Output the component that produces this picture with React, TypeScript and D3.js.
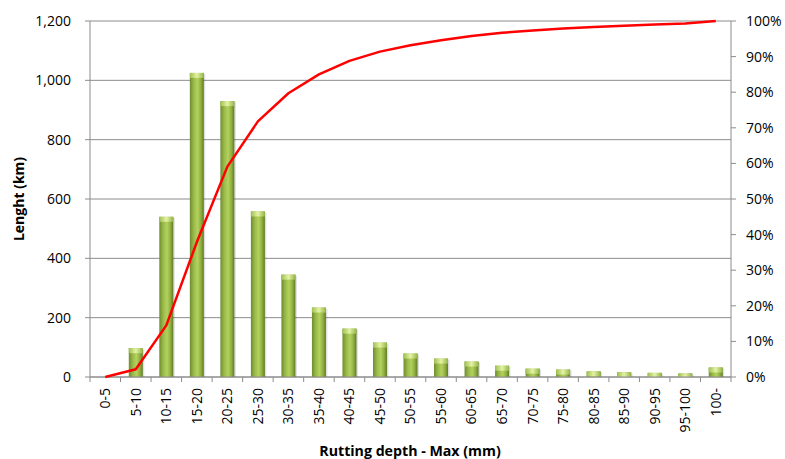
import React from "react";
import * as d3 from "d3";

const categories = ["0-5","5-10","10-15","15-20","20-25","25-30","30-35","35-40","40-45","45-50","50-55","55-60","60-65","65-70","70-75","75-80","80-85","85-90","90-95","95-100","100-"];
const lengths = [0, 97, 540, 1025, 930, 558, 345, 234, 163, 116, 79, 62, 52, 38, 28, 25, 19, 16, 14, 12, 32];
const cumulativePct = [0, 2.2, 14.5, 37.9, 59.1, 71.8, 79.7, 85.0, 88.8, 91.4, 93.2, 94.6, 95.8, 96.7, 97.3, 97.9, 98.3, 98.7, 99.0, 99.3, 100];
const leftTicks = [0, 200, 400, 600, 800, 1000, 1200];
const rightTicks = [0, 10, 20, 30, 40, 50, 60, 70, 80, 90, 100];

const W = 785, H = 459;
const M = { left: 90, right: 731, top: 21, bottom: 377 };
const FONT = "'Open Sans', Lato, sans-serif";

export default function App() {
  const x = d3.scaleBand().domain(categories).range([M.left, M.right]).paddingInner(0).paddingOuter(0);
  const yL = d3.scaleLinear().domain([0, 1200]).range([M.bottom, M.top]);
  const yR = d3.scaleLinear().domain([0, 100]).range([M.bottom, M.top]);
  const barW = 14;
  const line = d3.line<number>()
    .x((_, i) => (x(categories[i]) as number) + x.bandwidth() / 2)
    .y((d) => yR(d));
  const grid = "#8c8c8c";

  return (
    <svg width={W} height={H} style={{ position: "absolute", left: 0, top: 0, background: "#fff" }} fontFamily={FONT}>
      <defs>
        <linearGradient id="barGrad" x1="0" x2="1" y1="0" y2="0">
          <stop offset="0" stopColor="#6f8c2f" />
          <stop offset="0.3" stopColor="#9cbd4a" />
          <stop offset="0.55" stopColor="#b3d15e" />
          <stop offset="0.8" stopColor="#8eae3e" />
          <stop offset="1" stopColor="#5f7a26" />
        </linearGradient>
        <linearGradient id="capGrad" x1="0" x2="1" y1="0" y2="0">
          <stop offset="0" stopColor="#9fbf52" />
          <stop offset="0.5" stopColor="#e4f3a4" />
          <stop offset="1" stopColor="#93b447" />
        </linearGradient>
      </defs>
      {leftTicks.map((t) => (
        <line key={"g" + t} x1={M.left} x2={M.right} y1={yL(t)} y2={yL(t)} stroke={grid} strokeWidth={1} />
      ))}
      <line x1={M.left} x2={M.left} y1={M.top} y2={M.bottom} stroke={grid} />
      <line x1={M.right} x2={M.right} y1={M.top} y2={M.bottom + 5} stroke={grid} />
      {leftTicks.map((t) => (
        <g key={"l" + t}>
          <line x1={M.left - 5} x2={M.left} y1={yL(t)} y2={yL(t)} stroke={grid} />
          <text x={71} y={yL(t)} dy="0.35em" textAnchor="end" fontSize={14} fill="#000">{d3.format(",")(t)}</text>
        </g>
      ))}
      {rightTicks.map((t) => (
        <g key={"r" + t}>
          <line x1={M.right} x2={M.right + 5} y1={yR(t)} y2={yR(t)} stroke={grid} />
          <text x={746} y={yR(t)} dy="0.35em" textAnchor="start" fontSize={14} fill="#000">{t + "%"}</text>
        </g>
      ))}
      {categories.map((c, i) => (
        <line key={"xt" + i} x1={(x(c) as number)} x2={(x(c) as number)} y1={M.bottom} y2={M.bottom + 5} stroke={grid} />
      ))}
      {lengths.map((v, i) => {
        if (v <= 0) return null;
        const cx = (x(categories[i]) as number) + x.bandwidth() / 2;
        const top = yL(v);
        const h = M.bottom - top;
        const capH = Math.min(5, h);
        return (
          <g key={"b" + i}>
            <rect x={cx - barW / 2 + 1.5} y={top + 1} width={barW} height={h - 1} fill="#000" opacity={0.12} />
            <rect x={cx - barW / 2} y={top} width={barW} height={h} fill="url(#barGrad)" />
            <rect x={cx - barW / 2} y={top} width={barW} height={capH} fill="url(#capGrad)" />
          </g>
        );
      })}
      <line x1={M.left} x2={M.right} y1={M.bottom} y2={M.bottom} stroke={grid} />
      <path d={line(cumulativePct) as string} fill="none" stroke="#ff0000" strokeWidth={2.5} strokeLinejoin="round" />
      {categories.map((c, i) => {
        const cx = (x(c) as number) + x.bandwidth() / 2;
        return (
          <text key={"xl" + i} transform={`translate(${cx},${388}) rotate(-90)`} dy="0.35em" textAnchor="end" fontSize={14} fill="#000">{c}</text>
        );
      })}
      <text transform={`translate(19,199) rotate(-90)`} textAnchor="middle" dy="0.35em" fontSize={14} fontWeight="bold" fill="#000">Lenght (km)</text>
      <text x={410} y={451} textAnchor="middle" dy="0.35em" fontSize={14.2} fontWeight="bold" fill="#000">Rutting depth - Max (mm)</text>
    </svg>
  );
}
